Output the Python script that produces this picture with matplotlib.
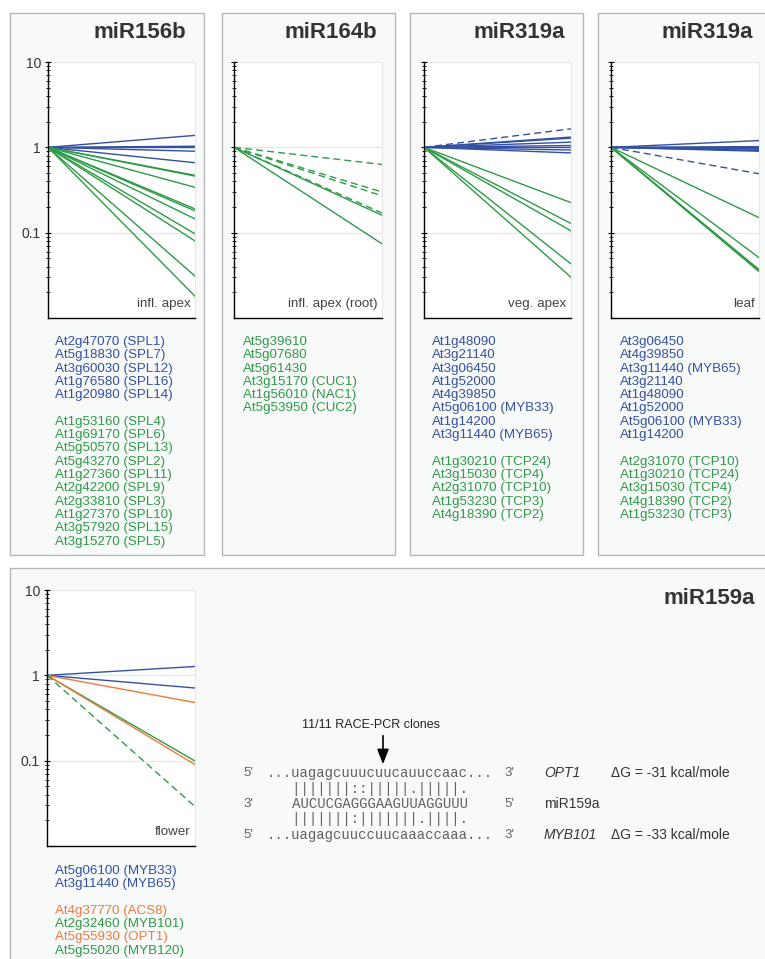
import matplotlib
matplotlib.use("Agg")
import matplotlib.pyplot as plt
from matplotlib.patches import Rectangle

plt.rcParams["font.family"] = ["Liberation Sans", "DejaVu Sans"]

BLUE = "#3450a2"
GREEN = "#2f9a47"
ORANGE = "#ee7a3c"

# relative transcript level at the end of the time course (start = 1)
x_time = [0, 1]
mir156b_blue = [1.38, 1.03, 1.0, 0.9, 0.66]
mir156b_green = [0.47, 0.46, 0.34, 0.19, 0.18, 0.145, 0.097, 0.08, 0.031, 0.018]
mir164b_green = [0.63, 0.30, 0.27, 0.17, 0.16, 0.074]
mir164b_dashed = [True, True, True, True, False, False]
mir319a_veg_blue = [1.65, 1.32, 1.28, 1.15, 1.05, 1.0, 0.93, 0.86]
mir319a_veg_green = [0.225, 0.128, 0.105, 0.043, 0.030]
mir319a_leaf_blue = [1.2, 1.02, 1.0, 0.97, 0.95, 0.92, 0.9, 0.49]
mir319a_leaf_green = [0.15, 0.051, 0.037, 0.036, 0.035]
mir159a_ends = [1.27, 0.71, 0.48, 0.099, 0.09, 0.029]
mir159a_colors = [BLUE, BLUE, ORANGE, GREEN, ORANGE, GREEN]
mir159a_dashed = [False, False, False, False, False, True]

# target gene lists
genes_156b_blue = ["At2g47070 (SPL1)", "At5g18830 (SPL7)", "At3g60030 (SPL12)",
                   "At1g76580 (SPL16)", "At1g20980 (SPL14)"]
genes_156b_green = ["At1g53160 (SPL4)", "At1g69170 (SPL6)", "At5g50570 (SPL13)",
                    "At5g43270 (SPL2)", "At1g27360 (SPL11)", "At2g42200 (SPL9)",
                    "At2g33810 (SPL3)", "At1g27370 (SPL10)", "At3g57920 (SPL15)",
                    "At3g15270 (SPL5)"]
genes_164b_green = ["At5g39610", "At5g07680", "At5g61430", "At3g15170 (CUC1)",
                    "At1g56010 (NAC1)", "At5g53950 (CUC2)"]
genes_319veg_blue = ["At1g48090", "At3g21140", "At3g06450", "At1g52000", "At4g39850",
                     "At5g06100 (MYB33)", "At1g14200", "At3g11440 (MYB65)"]
genes_319veg_green = ["At1g30210 (TCP24)", "At3g15030 (TCP4)", "At2g31070 (TCP10)",
                      "At1g53230 (TCP3)", "At4g18390 (TCP2)"]
genes_319leaf_blue = ["At3g06450", "At4g39850", "At3g11440 (MYB65)", "At3g21140",
                      "At1g48090", "At1g52000", "At5g06100 (MYB33)", "At1g14200"]
genes_319leaf_green = ["At2g31070 (TCP10)", "At1g30210 (TCP24)", "At3g15030 (TCP4)",
                       "At4g18390 (TCP2)", "At1g53230 (TCP3)"]
genes_159a_blue = ["At5g06100 (MYB33)", "At3g11440 (MYB65)"]
genes_159a_other = ["At4g37770 (ACS8)", "At2g32460 (MYB101)", "At5g55930 (OPT1)",
                    "At5g55020 (MYB120)"]
genes_159a_other_colors = [ORANGE, GREEN, ORANGE, GREEN]

W, H = 765, 959
fig = plt.figure(figsize=(W / 100, H / 100), dpi=100)
bg = fig.add_axes([0, 0, 1, 1])
bg.set_xlim(0, W)
bg.set_ylim(H, 0)
bg.axis("off")

# panel frames (pixel coords: x0, y0, x1, y1)
frames = [(10, 13, 204, 555), (222, 13, 395, 555), (410, 13, 583, 555),
          (598, 13, 775, 555), (10, 568, 775, 970)]
for x0, y0, x1, y1 in frames:
    bg.add_patch(Rectangle((x0, y0), x1 - x0, y1 - y0, facecolor="#f8fafa",
                           edgecolor="#b5b8b8", lw=1.0))


def make_axes(x0, y0, x1, y1, labels):
    ax = fig.add_axes([x0 / W, 1 - y1 / H, (x1 - x0) / W, (y1 - y0) / H])
    ax.set_facecolor("white")
    ax.set_yscale("log")
    ax.set_ylim(0.01, 10)
    ax.set_xlim(0, 1)
    ax.spines["top"].set_visible(False)
    ax.spines["right"].set_color("#e6e8e8")
    ax.spines["left"].set_linewidth(1.0)
    ax.spines["bottom"].set_linewidth(1.0)
    ax.set_xticks([])
    ax.set_yticks([0.1, 1, 10])
    ax.set_yticklabels(["0.1", "1", "10"] if labels else [])
    ax.tick_params(axis="y", which="major", direction="inout", length=4, width=0.8,
                   labelsize=10, labelcolor="#333333", pad=3)
    ax.tick_params(axis="y", which="minor", direction="inout", length=2.5, width=0.6)
    for v in (0.1, 1, 10):
        ax.axhline(v, color="#e4e6e6", lw=0.8, zorder=0)
    return ax


def draw(ax, ends, color, dashed=None):
    for i, v in enumerate(ends):
        ls = (0, (5, 3)) if dashed and dashed[i] else "-"
        ax.plot(x_time, [1, v], color=color, lw=1.0, ls=ls)


def gene_list(x, y, groups, step=13.3):
    for names, colors in groups:
        for i, n in enumerate(names):
            c = colors[i] if isinstance(colors, list) else colors
            bg.text(x, y, n, color=c, fontsize=9.6, va="center", ha="left")
            y += step
        y += step


ax1 = make_axes(48, 62, 195, 318, True)
draw(ax1, mir156b_blue, BLUE)
draw(ax1, mir156b_green, GREEN)

ax2 = make_axes(234, 62, 382, 318, False)
draw(ax2, mir164b_green, GREEN, mir164b_dashed)

ax3 = make_axes(424, 62, 571, 318, False)
draw(ax3, mir319a_veg_blue, BLUE, [True] + [False] * 7)
draw(ax3, mir319a_veg_green, GREEN)

ax4 = make_axes(611, 62, 759, 318, False)
draw(ax4, mir319a_leaf_blue, BLUE, [False] * 7 + [True])
draw(ax4, mir319a_leaf_green, GREEN)

ax5 = make_axes(47, 590, 195, 846, True)
for v, c, d in zip(mir159a_ends, mir159a_colors, mir159a_dashed):
    ax5.plot(x_time, [1, v], color=c, lw=1.0, ls=(0, (5, 3)) if d else "-")

for ax, lab in [(ax1, "infl. apex"), (ax2, "infl. apex (root)"), (ax3, "veg. apex"),
                (ax4, "leaf"), (ax5, "flower")]:
    ax.text(0.97, 0.03, lab, transform=ax.transAxes, ha="right", va="bottom",
            fontsize=9.6, color="#444444")

# panel titles
for x, y, t in [(186, 33, "miR156b"), (377, 33, "miR164b"), (565, 33, "miR319a"),
                (753, 33, "miR319a"), (755, 598, "miR159a")]:
    bg.text(x, y, t, ha="right", va="center", fontsize=16, fontweight="bold",
            color="#333333")

gene_list(55, 342, [(genes_156b_blue, BLUE), (genes_156b_green, GREEN)])
gene_list(243, 342, [(genes_164b_green, GREEN)])
gene_list(432, 342, [(genes_319veg_blue, BLUE), (genes_319veg_green, GREEN)])
gene_list(620, 342, [(genes_319leaf_blue, BLUE), (genes_319leaf_green, GREEN)])
gene_list(55, 871, [(genes_159a_blue, BLUE), (genes_159a_other, genes_159a_other_colors)])

# target-site alignment
seq_rows = ["...uagagcuuucuucauuccaac...",
            "   |||||||::|||||.|||||.",
            "   AUCUCGAGGGAAGUUAGGUUU",
            "   |||||||:|||||||.||||.",
            "...uagagcuuccuucaaaccaaa..."]
row_y = [773, 789, 804, 819, 835]
end_left = ["5'", "", "3'", "", "5'"]
end_right = ["3'", "", "5'", "", "3'"]
for s, y, l, r in zip(seq_rows, row_y, end_left, end_right):
    bg.text(267, y, s, family="Liberation Mono", fontsize=10, color="#606060",
            va="center", ha="left")
    if l:
        bg.text(243, y, l, fontsize=9.5, color="#606060", va="center", ha="left")
        bg.text(504, y, r, fontsize=9.5, color="#606060", va="center", ha="left")

bg.text(544, 773, "OPT1", fontsize=10, style="italic", color="#333333", va="center")
bg.text(544, 804, "miR159a", fontsize=10, color="#333333", va="center")
bg.text(544, 835, "MYB101", fontsize=10, style="italic", color="#333333", va="center")
bg.text(611, 773, "ΔG = -31 kcal/mole", fontsize=10, color="#333333", va="center")
bg.text(611, 835, "ΔG = -33 kcal/mole", fontsize=10, color="#333333", va="center")

bg.text(371, 725, "11/11 RACE-PCR clones", fontsize=9, color="#222222",
        ha="center", va="center")
bg.annotate("", xy=(383, 767), xytext=(383, 733),
            arrowprops=dict(arrowstyle="-|>,head_width=0.35,head_length=0.9",
                            color="black", lw=1.2))

fig.savefig("out.png", dpi=100)
